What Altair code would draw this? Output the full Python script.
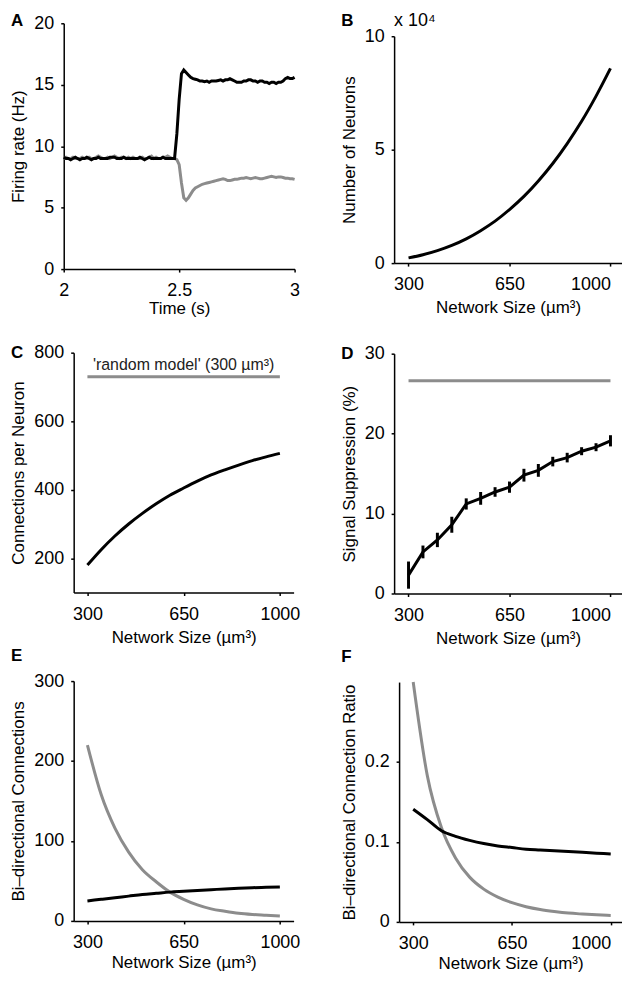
import altair as alt
import pandas as pd

FONT = "Liberation Sans"
BLACK = "#000000"
GRAY = "#8c8c8c"

# ---------------- data ----------------
TIME = [round(2 + 0.01 * i, 2) for i in range(101)]
RATE_BLACK = [
    9.1, 9.0, 9.0, 8.9, 9.0, 9.1, 9.0, 8.9, 9.0, 9.0,
    9.1, 9.0, 8.9, 9.0, 9.0, 9.1, 9.0, 9.0, 9.0, 9.0,
    9.1, 9.1, 9.1, 9.0, 9.0, 9.0, 9.1, 9.0, 9.0, 9.0,
    9.0, 9.0, 9.0, 9.1, 9.0, 8.9, 9.0, 9.1, 9.0, 9.0,
    9.0, 9.0, 9.0, 9.1, 9.0, 9.0, 9.0, 9.0, 9.0, 11.0,
    13.8, 15.9, 16.2, 16.0, 15.8, 15.6, 15.5, 15.45, 15.4, 15.3,
    15.3, 15.25, 15.3, 15.2, 15.3, 15.3, 15.3, 15.35, 15.4, 15.3,
    15.4, 15.4, 15.5, 15.4, 15.3, 15.2, 15.2, 15.2, 15.3, 15.3,
    15.4, 15.4, 15.3, 15.3, 15.2, 15.3, 15.3, 15.2, 15.2, 15.1,
    15.2, 15.2, 15.1, 15.2, 15.2, 15.3, 15.5, 15.6, 15.5, 15.5,
    15.6,
]
RATE_GRAY = [
    9.0, 9.1, 9.0, 9.0, 9.1, 9.0, 9.0, 9.0, 9.1, 9.0,
    9.0, 9.1, 9.0, 9.0, 9.1, 9.2, 9.1, 9.0, 9.0, 9.1,
    9.0, 9.1, 9.2, 9.1, 9.0, 9.1, 9.1, 9.0, 9.1, 9.0,
    9.1, 9.0, 9.0, 9.0, 9.1, 9.0, 9.0, 9.1, 9.2, 9.0,
    9.1, 9.0, 9.0, 9.1, 9.1, 9.2, 9.1, 9.0, 9.0, 8.9,
    8.5, 7.0, 5.8, 5.6, 5.8, 6.1, 6.4, 6.6, 6.7, 6.8,
    6.9, 6.95, 7.0, 7.05, 7.1, 7.15, 7.2, 7.25, 7.3, 7.35,
    7.3, 7.2, 7.2, 7.25, 7.3, 7.3, 7.35, 7.4, 7.4, 7.45,
    7.4, 7.35, 7.4, 7.45, 7.4, 7.35, 7.35, 7.4, 7.45, 7.5,
    7.55, 7.5, 7.45, 7.5, 7.5, 7.45, 7.4, 7.4, 7.35, 7.35,
    7.3,
]

SIZES = [300, 350, 400, 450, 500, 550, 600, 650, 700, 750, 800, 850, 900, 950, 1000]
NEURONS = [0.23, 0.37, 0.55, 0.78, 1.07, 1.43, 1.85, 2.36, 2.94, 3.62, 4.39, 5.27, 6.25, 7.36, 8.58]  # x 10^4
CONN = [180, 225, 265, 300, 331, 359, 384, 405, 425, 443, 458, 472, 485, 496, 506]
RANDOM_X = [300, 1000]
RANDOM_CONN = [730, 730]
SUPP = [2.3, 5.2, 6.7, 8.6, 11.2, 11.9, 12.7, 13.3, 14.8, 15.4, 16.5, 17.0, 17.8, 18.3, 19.1]
SUPP_ERR = [1.7, 0.8, 0.9, 1.0, 0.7, 0.8, 0.6, 0.7, 0.8, 0.8, 0.6, 0.6, 0.5, 0.5, 0.7]
RANDOM_SUPP = [26.6, 26.6]
BIDIR_BLACK = [25, 27, 29, 31, 33, 34.5, 36, 37, 38, 39, 40, 40.8, 41.5, 42, 42.5]
BIDIR_GRAY = [220, 158, 116, 86, 64, 49, 36, 27, 20, 15, 12, 9.5, 8, 7, 6]
RATIO_BLACK = [0.141, 0.128, 0.114, 0.107, 0.102, 0.098, 0.095, 0.093, 0.091, 0.090,
               0.089, 0.088, 0.087, 0.086, 0.085]
RATIO_GRAY = [0.30, 0.183, 0.118, 0.08, 0.056, 0.041, 0.031, 0.024, 0.019, 0.0155,
              0.013, 0.011, 0.0098, 0.0088, 0.008]

XTITLE = "Network Size (µm³)"
SIZE_TICKS = [300, 650, 1000]
LABEL_EXPR = "format(datum.value, '~g')"


# ---------------- helpers ----------------
def xaxis(title, values, tp, right_last=False):
    kw = dict(title=title, values=values, labelExpr=LABEL_EXPR, tickSize=3, labelPadding=10,
              titlePadding=tp, labelFlush=False, labelOverlap=False)
    if right_last:
        kw["labelAlign"] = {"condition": {"test": "datum.value >= 1000", "value": "right"}, "value": "center"}
    return alt.Axis(**kw)


def yaxis(title, values):
    return alt.Axis(title=title, values=values, labelExpr=LABEL_EXPR, tickSize=3, labelPadding=7,
                    titlePadding=6, labelFlush=False, labelOverlap=False)


def enc(xdom, ydom, xt, xticks, xtp, yt, yticks, right_last=False):
    x = alt.X("x:Q", scale=alt.Scale(domain=xdom, nice=False, zero=False),
              axis=xaxis(xt, xticks, xtp, right_last))
    y = alt.Y("y:Q", scale=alt.Scale(domain=ydom, nice=False, zero=False), axis=yaxis(yt, yticks))
    return x, y


def line(df, x, y, color, interp="monotone"):
    return alt.Chart(df).mark_line(color=color, strokeWidth=3, interpolate=interp).encode(x=x, y=y)


def letter(t, xv, yv, x, y, dx, dy):
    return alt.Chart(pd.DataFrame({"x": [xv], "y": [yv], "t": [t]})).mark_text(
        align="left", baseline="alphabetic", dx=dx, dy=dy, fontSize=17, fontWeight="bold",
        font=FONT, color=BLACK
    ).encode(x=x, y=y, text="t:N")


def gap(h, w=1):
    # empty layout spacer (no data, no axes)
    return alt.Chart(pd.DataFrame({"v": pd.Series([], dtype=float)})).mark_point().encode(
        x=alt.X("v:Q", axis=None, scale=alt.Scale(domain=[0, 1]))
    ).properties(width=w, height=h)


def left_pad(panel):
    return alt.hconcat(gap(1), panel, spacing=0)


# ---------------- panel A ----------------
xA, yA = enc([2, 3], [0, 20], "Time (s)", [2, 2.5, 3], 1, "Firing rate (Hz)", [0, 5, 10, 15, 20])
A = alt.layer(
    line(pd.DataFrame({"x": TIME, "y": RATE_GRAY}), xA, yA, GRAY, "linear"),
    line(pd.DataFrame({"x": TIME, "y": RATE_BLACK}), xA, yA, BLACK, "linear"),
    letter("A", 2, 20, xA, yA, -53, 2.3),
).properties(width=232, height=247)

# ---------------- panel B ----------------
xB, yB = enc([250, 1040], [0, 10], XTITLE, SIZE_TICKS, 5.2, "Number of Neurons", [0, 5, 10], True)
B = alt.layer(
    line(pd.DataFrame({"x": SIZES, "y": NEURONS}), xB, yB, BLACK),
    alt.Chart(pd.DataFrame({"x": [250], "y": [10], "t": ["x 10⁴"]})).mark_text(
        align="left", baseline="alphabetic", dy=-10, fontSize=18, font=FONT, color=BLACK
    ).encode(x=xB, y=yB, text="t:N"),
    letter("B", 250, 10, xB, yB, -53, -10.3),
).properties(width=229, height=228)

# ---------------- panel C ----------------
xC, yC = enc([250, 1050], [100, 800], XTITLE, SIZE_TICKS, 6.2, "Connections per Neuron", [200, 400, 600, 800])
C = alt.layer(
    line(pd.DataFrame({"x": RANDOM_X, "y": RANDOM_CONN}), xC, yC, GRAY, "linear"),
    line(pd.DataFrame({"x": SIZES, "y": CONN}), xC, yC, BLACK),
    alt.Chart(pd.DataFrame({"x": [650], "y": [750], "t": ["'random model' (300 µm³)"]})).mark_text(
        align="center", baseline="alphabetic", fontSize=16, font=FONT, color="#222222"
    ).encode(x=xC, y=yC, text="t:N"),
    letter("C", 250, 800, xC, yC, -63, 5),
).properties(width=221, height=241)

# ---------------- panel D ----------------
xD, yD = enc([250, 1040], [0, 30], XTITLE, SIZE_TICKS, 6.2, "Signal Suppression (%)", [0, 10, 20, 30], True)
dfD = pd.DataFrame({
    "x": SIZES,
    "y": SUPP,
    "lo": [m - e for m, e in zip(SUPP, SUPP_ERR)],
    "hi": [m + e for m, e in zip(SUPP, SUPP_ERR)],
})
D = alt.layer(
    line(pd.DataFrame({"x": RANDOM_X, "y": RANDOM_SUPP}), xD, yD, GRAY, "linear"),
    line(dfD, xD, yD, BLACK, "linear"),
    alt.Chart(dfD).mark_rule(color=BLACK, strokeWidth=3).encode(
        x=xD,
        y=alt.Y("lo:Q", scale=alt.Scale(domain=[0, 30], nice=False, zero=False),
                axis=yaxis("Signal Suppression (%)", [0, 10, 20, 30])),
        y2="hi:Q",
    ),
    letter("D", 250, 30, xD, yD, -53, 5),
).properties(width=229, height=241)

# ---------------- panel E ----------------
xE, yE = enc([250, 1050], [0, 300], XTITLE, SIZE_TICKS, 3, "Bi–directional Connections", [0, 100, 200, 300])
E = alt.layer(
    line(pd.DataFrame({"x": SIZES, "y": BIDIR_GRAY}), xE, yE, GRAY),
    line(pd.DataFrame({"x": SIZES, "y": BIDIR_BLACK}), xE, yE, BLACK),
    letter("E", 250, 300, xE, yE, -63, -19.8),
).properties(width=221, height=241)

# ---------------- panel F ----------------
xF, yF = enc([250, 1040], [0, 0.3], XTITLE, SIZE_TICKS, 3, "Bi–directional Connection Ratio", [0, 0.1, 0.2], True)
F = alt.layer(
    line(pd.DataFrame({"x": SIZES, "y": RATIO_GRAY}), xF, yF, GRAY),
    line(pd.DataFrame({"x": SIZES, "y": RATIO_BLACK}), xF, yF, BLACK),
    letter("F", 250, 0.3, xF, yF, -58, -19.8),
).properties(width=224, height=241)

col1 = alt.vconcat(gap(1), left_pad(A), gap(27), left_pad(C), gap(1), left_pad(E), spacing=0)
col2 = alt.vconcat(gap(1), left_pad(B), gap(29), left_pad(D), gap(1), left_pad(F), spacing=0)

chart = alt.hconcat(col1, col2, spacing=38).properties(
    padding={"left": 0, "top": 0, "right": 0, "bottom": 0}
).configure_axis(
    labelFont=FONT, labelFontSize=18, titleFont=FONT, titleFontSize=17, titleFontWeight="normal",
    labelColor=BLACK, titleColor=BLACK, domainColor=BLACK, domainWidth=1.5,
    tickColor=BLACK, tickWidth=1.5, grid=False,
).configure_view(stroke=None)

chart.save("out.html", embed_options={"renderer": "svg", "actions": False})
